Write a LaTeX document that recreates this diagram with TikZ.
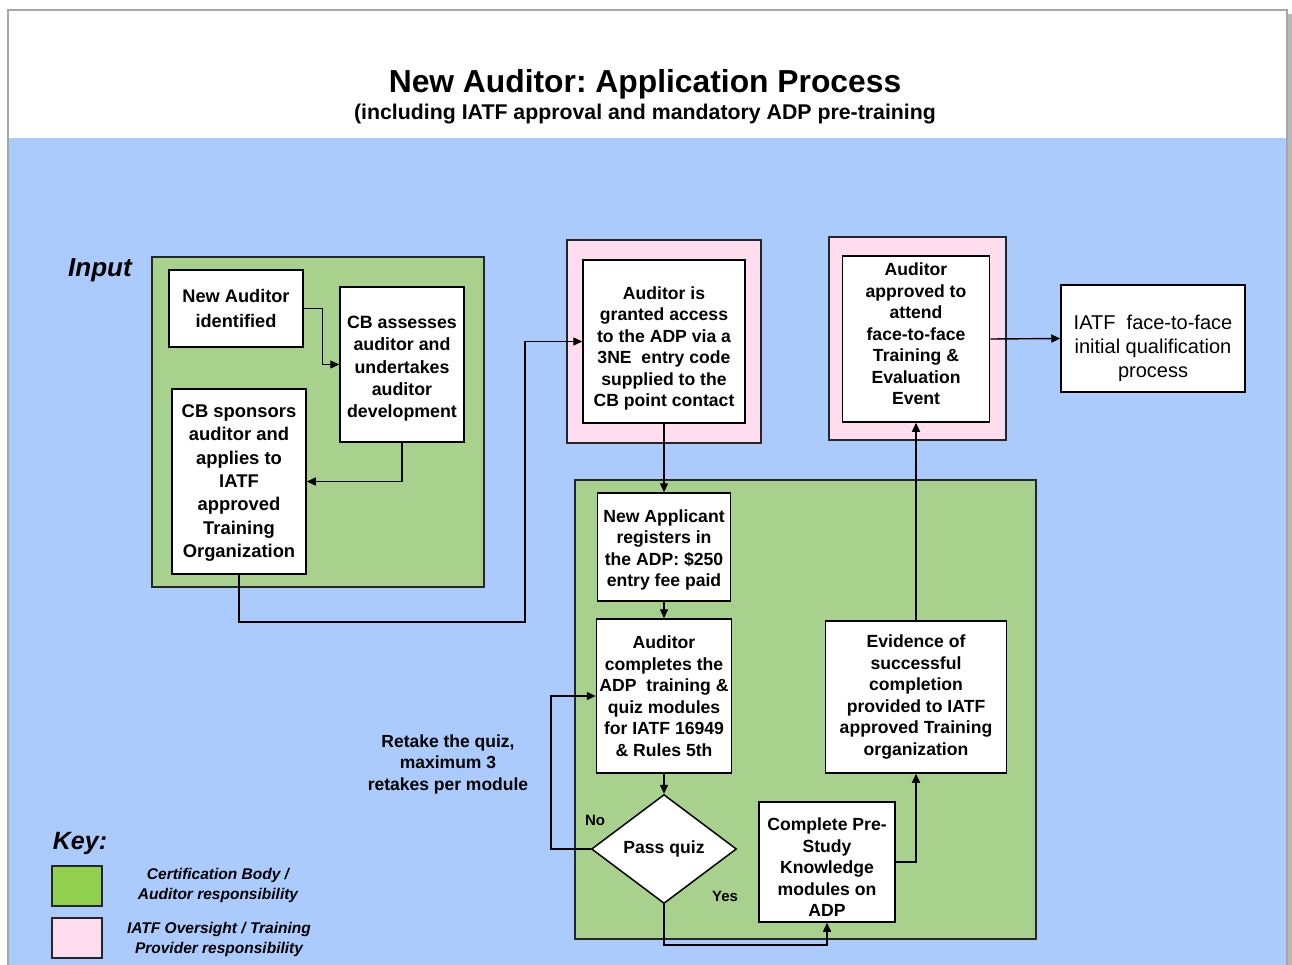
\documentclass[tikz,border=0pt]{standalone}
\usepackage{fontspec}
\setmainfont{Liberation Sans}
\usetikzlibrary{arrows.meta,shapes.geometric}
\definecolor{bgblue}{HTML}{AACBFC}
\definecolor{grp}{HTML}{A9D18E}
\definecolor{pnk}{HTML}{FFDDEE}
\definecolor{keygreen}{HTML}{92D050}
\definecolor{framegray}{HTML}{A6A6A6}
\frenchspacing
\newcommand{\topgap}[1]{\rule{0pt}{#1}}
\newcommand{\botgap}[1]{\rule[-#1]{0pt}{0pt}}
\tikzset{
  box/.style={draw=black, fill=white, line width=1.5pt, align=center, inner sep=1pt,
    font=\bfseries\fontsize{17.6}{21.5}\selectfont},
  grpgreen/.style={draw=black!85, fill=grp, line width=1.5pt},
  grppink/.style={draw=black!85, fill=pnk, line width=1.5pt},
  conn/.style={line width=1.4pt, -{Triangle[length=9pt,width=8pt]}},
  lbl/.style={align=center, inner sep=0pt},
}
\begin{document}
\begin{tikzpicture}[x=1pt,y=-1pt]
\useasboundingbox (0,0) rectangle (1292,965);
% frame and background
\fill[white] (9,10) rectangle (1287,138);
\fill[bgblue] (9,138) rectangle (1287,965);
\fill[framegray!80] (1288,14) rectangle (1292,965);
\draw[framegray, line width=2pt] (8,965) -- (8,10) -- (1287,10) -- (1287,965);
% title
\node[lbl, font=\bfseries\fontsize{31.8}{36}\selectfont] (title) at (645,84) {New Auditor: Application Process};
\node[lbl, font=\bfseries\fontsize{21.3}{25}\selectfont] (subtitle) at (645,114) {(including IATF approval and mandatory ADP pre-training};
% groups
\draw[grpgreen] (152,257) rectangle (484,587);
\draw[grppink] (567,240) rectangle (761,443);
\draw[grppink] (829,237) rectangle (1006,440);
\draw[grpgreen] (575,480) rectangle (1036,939);
% input label
\node[lbl, font=\bfseries\itshape\fontsize{26}{30}\selectfont] (input) at (100,270) {Input};
% boxes
\node[box, minimum width=134pt, minimum height=77pt, font=\bfseries\fontsize{18.2}{25}\selectfont] (na) at (236,308.5) {New Auditor\\identified};
\node[box, minimum width=124pt, minimum height=155pt, font=\bfseries\fontsize{17.8}{22.3}\selectfont] (cba) at (402,364.5) {\topgap{21pt}CB assesses\\auditor and\\undertakes\\auditor\\development};
\node[box, minimum width=134pt, minimum height=185pt, font=\bfseries\fontsize{18.4}{23.3}\selectfont] (cbs) at (239,481.5) {\topgap{16pt}CB sponsors\\auditor and\\applies to\\IATF\\approved\\Training\\Organization};
\node[box, minimum width=162pt, minimum height=163pt] (agr) at (664,341.5) {\topgap{27pt}Auditor is\\granted access\\to the ADP via a\\3NE\ \ entry code\\supplied to the\\CB point contact};
\node[box, minimum width=147pt, minimum height=166pt] (aap) at (916,339) {Auditor\\approved to\\attend\\face-to-face\\Training \&\\Evaluation\\Event\botgap{10pt}};
\node[box, minimum width=184pt, minimum height=107pt, font=\fontsize{20}{24}\selectfont] (iatf) at (1153,338.5) {\topgap{34pt}IATF\ \ face-to-face\\initial qualification\\process};
\node[box, minimum width=133pt, minimum height=108pt] (nap) at (664,547) {\topgap{19pt}New Applicant\\registers in\\the ADP: \$250\\entry fee paid};
\node[box, minimum width=135pt, minimum height=154pt] (acp) at (664,696) {Auditor\\completes the\\ADP\ \ training \&\\quiz modules\\for IATF 16949\\\& Rules 5th};
\node[box, diamond, aspect=1.33, minimum width=145pt, minimum height=109pt, inner sep=0pt] (quiz) at (664,849) {Pass quiz};
\node[box, minimum width=136pt, minimum height=120pt] (pre) at (827,862) {\topgap{23pt}Complete Pre-\\Study\\Knowledge\\modules on\\ADP};
\node[box, minimum width=181pt, minimum height=152pt] (evd) at (916,697) {Evidence of\\successful\\completion\\provided to IATF\\approved Training\\organization};
% connector corners
\coordinate (j1) at (525,622);
\coordinate (j2) at (551,849);
\coordinate (j3) at (664,945);
% connectors
\draw[conn] (na.east) -- ++(19,0) |- (cba.west);
\draw[conn] (cba.south) |- (cbs.east);
\draw[conn] (cbs.south) |- (j1) |- (agr.west);
\draw[conn] (agr.south) -- (nap.north);
\draw[conn] (nap.south) -- (acp.north);
\draw[conn] (acp.south) -- (quiz.north);
\draw[conn] (quiz.west) -- (j2) |- (acp.west);
\draw[conn] (quiz.south) -- (j3) -| (pre.south);
\draw[conn] (pre.east) -| (evd.south);
\draw[conn] (evd.north) -- (aap.south);
\draw[conn] (aap.east) -- (iatf.west);
% labels
\node[lbl, font=\bfseries\fontsize{15}{18}\selectfont] (no) at (595,820) {No};
\node[lbl, font=\bfseries\fontsize{15}{18}\selectfont] (yes) at (725,896) {Yes};
\node[lbl, font=\bfseries\fontsize{17.5}{21.5}\selectfont] (retake) at (448,764) {Retake the quiz,\\maximum 3\\retakes per module};
% key
\node[lbl, font=\bfseries\itshape\fontsize{25}{30}\selectfont] (key) at (80,843) {Key:};
\node[draw=black!85, fill=keygreen, line width=1.5pt, minimum width=50pt, minimum height=40pt, inner sep=0pt] (kg) at (77,886) {};
\node[draw=black!85, fill=pnk, line width=1.5pt, minimum width=50pt, minimum height=40pt, inner sep=0pt] (kp) at (77,938) {};
\node[lbl, font=\bfseries\itshape\fontsize{15.5}{20}\selectfont] (kgt) at (218,885) {Certification Body /\\Auditor responsibility};
\node[lbl, font=\bfseries\itshape\fontsize{15.5}{20}\selectfont] (kpt) at (219,939) {IATF Oversight / Training\\Provider responsibility};
\end{tikzpicture}
\end{document}
